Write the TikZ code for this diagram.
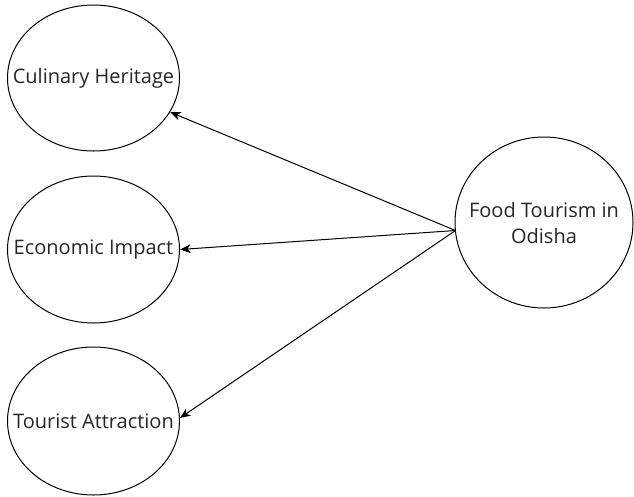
\documentclass[tikz,border=0pt]{standalone}
\usepackage{fontspec}
\setmainfont{Open Sans}
\usetikzlibrary{shapes.geometric,arrows.meta}
\begin{document}
\begin{tikzpicture}[x=1pt,y=-1pt,
  bubble/.style={draw, ellipse, line width=1pt, inner sep=0pt},
  lbl/.style={inner sep=0pt, text=black!85, font=\fontsize{20}{26}\selectfont, align=center},
  link/.style={line width=1pt, -{Stealth[length=10.5pt,width=8.5pt,inset=3pt]}}]
\path[use as bounding box] (0,0) rectangle (634,496);
\node[bubble, minimum width=172pt, minimum height=146pt] (cul) at (93.5,78) {};
\node[bubble, minimum width=172pt, minimum height=147pt] (eco) at (93.5,249.5) {};
\node[bubble, minimum width=172pt, minimum height=148pt] (tour) at (93.5,421) {};
\node[bubble, minimum width=178pt, minimum height=171pt] (food) at (544,222.5) {};
\node[lbl] (culT) at (cul) {Culinary Heritage};
\node[lbl] (ecoT) at (eco) {Economic Impact};
\node[lbl] (tourT) at (tour) {Tourist Attraction};
\node[lbl] (foodT) at (food) {Food Tourism in\\Odisha};
\coordinate (src) at (455.5,230.5);
\draw[link] (src) -- (cul.-24);
\draw[link] (src) -- (eco.east);
\draw[link] (src) -- (tour.2);
\end{tikzpicture}
\end{document}
